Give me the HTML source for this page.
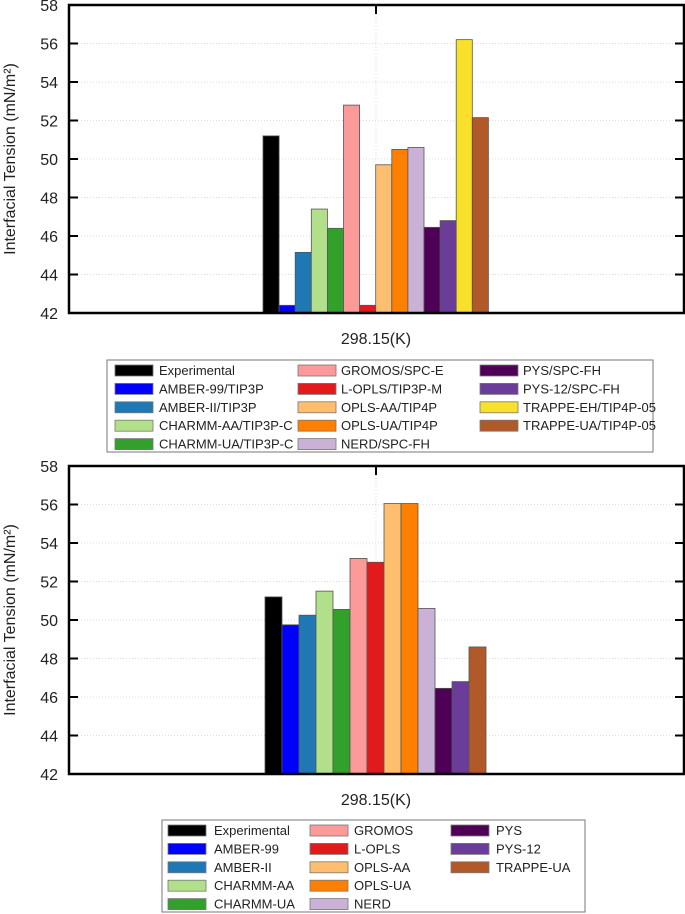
<!DOCTYPE html>
<html><head><meta charset="utf-8">
<style>
body{margin:0;background:#fff;width:685px;height:914px;overflow:hidden;font-family:"Liberation Sans",Arial,sans-serif;}
svg{display:block}
</style></head>
<body>
<svg id="chart" width="685" height="914" xmlns="http://www.w3.org/2000/svg"></svg>
<script>
const ticks = [42,44,46,48,50,52,54,56,58];
const topNames = ["Experimental","AMBER-99/TIP3P","AMBER-II/TIP3P","CHARMM-AA/TIP3P-C","CHARMM-UA/TIP3P-C","GROMOS/SPC-E","L-OPLS/TIP3P-M","OPLS-AA/TIP4P","OPLS-UA/TIP4P","NERD/SPC-FH","PYS/SPC-FH","PYS-12/SPC-FH","TRAPPE-EH/TIP4P-05","TRAPPE-UA/TIP4P-05"];
const topValues = [51.2,42.4,45.15,47.4,46.4,52.8,42.4,49.7,50.5,50.6,46.45,46.8,56.2,52.15];
const topColors = ["#000000","#0000ff","#1f78b4","#b2df8a","#33a02c","#fb9a99","#e31a1c","#fdbf6f","#ff7f00","#cab2d6","#4d0055","#6a3d9a","#f9e02a","#b15928"];
const botNames = ["Experimental","AMBER-99","AMBER-II","CHARMM-AA","CHARMM-UA","GROMOS","L-OPLS","OPLS-AA","OPLS-UA","NERD","PYS","PYS-12","TRAPPE-UA"];
const botValues = [51.2,49.75,50.25,51.5,50.55,53.2,53.0,56.05,56.05,50.6,46.45,46.8,48.6];
const botColors = ["#000000","#0000ff","#1f78b4","#b2df8a","#33a02c","#fb9a99","#e31a1c","#fdbf6f","#ff7f00","#cab2d6","#4d0055","#6a3d9a","#b15928"];
const xLabel = "298.15(K)";

const svg = document.getElementById('chart');
const NS = "http://www.w3.org/2000/svg";
function mk(tag, attrs, parent){const e=document.createElementNS(NS,tag);for(const k in attrs)e.setAttribute(k,attrs[k]);(parent||svg).appendChild(e);return e;}

function panel(prefix, top, names, values, colors, barX0, barW, leg){
  const L=69,R=684,T=top,B=top+308;
  const g=mk('g',{});
  
  
  const y=v=>B-(v-ticks[0])/(ticks[ticks.length-1]-ticks[0])*(B-T);
  // grid
  ticks.forEach(t=>{
    if(t>ticks[0]&&t<ticks[ticks.length-1]){
      const gl=mk('line',{x1:L,x2:R,y1:y(t),y2:y(t),stroke:'#ddd','stroke-dasharray':'1,2','stroke-width':1},g);
      
      
      mk('line',{x1:L,x2:L+9,y1:y(t),y2:y(t),stroke:'#000','stroke-width':2},g);
      mk('line',{x1:R-9,x2:R,y1:y(t),y2:y(t),stroke:'#000','stroke-width':2},g);
    }
    const tl=mk('text',{x:58,y:y(t)+6,'text-anchor':'end','font-size':16,fill:'#222'},g);
    tl.textContent=t;
    
    
  });
  const cx=376;
  mk('line',{x1:cx,x2:cx,y1:T,y2:B,stroke:'#ddd','stroke-dasharray':'1,2'},g);
  mk('line',{x1:cx,x2:cx,y1:T,y2:T+9,stroke:'#000','stroke-width':2},g);
  // bars
  values.forEach((v,i)=>{
    const r=mk('rect',{x:barX0+i*barW,y:y(v),width:barW,height:B-y(v),fill:colors[i],stroke:'#555','stroke-width':0.8},g);
    
    
  });
  const fr=mk('rect',{x:L,y:T,width:R-L,height:B-T,fill:'none',stroke:'#000','stroke-width':2.5},g);
  
  
  const yt=mk('text',{transform:`translate(15,${(T+B)/2}) rotate(-90)`,'text-anchor':'middle','font-size':16,fill:'#222'},g);
  yt.textContent='Interfacial Tension (mN/m²)';
  
  
  const xt=mk('text',{x:cx,y:B+31,'text-anchor':'middle','font-size':16,fill:'#222'},g);
  xt.textContent=xLabel;
  
  
  // legend
  const lg=mk('g',{},g);
  
  
  mk('rect',{x:leg.x,y:leg.y,width:leg.w,height:92,fill:'#fff',stroke:'#777','stroke-width':1},lg);
  names.forEach((n,i)=>{
    const col=Math.floor(i/5),row=i%5;
    const ry=leg.y+10+row*18.4;
    const e=mk('g',{},lg);
    
    
    mk('rect',{x:leg.sx[col],y:ry-5,width:38,height:11,fill:colors[i],stroke:'#777','stroke-width':0.8},e);
    const t=mk('text',{x:leg.tx[col],y:ry+5,'font-size':13,fill:'#222',textLength:0},e);
    t.removeAttribute('textLength');
    t.textContent=n;
  });
}
panel('top',5,topNames,topValues,topColors,263,16.1,{x:107,y:360,w:546,sx:[115,298,480],tx:[159,341,523]});
panel('bottom',466,botNames,botValues,botColors,265,17.0,{x:162,y:820,w:423,sx:[168,310,451],tx:[214,354,496]});
</script>
</body></html>
